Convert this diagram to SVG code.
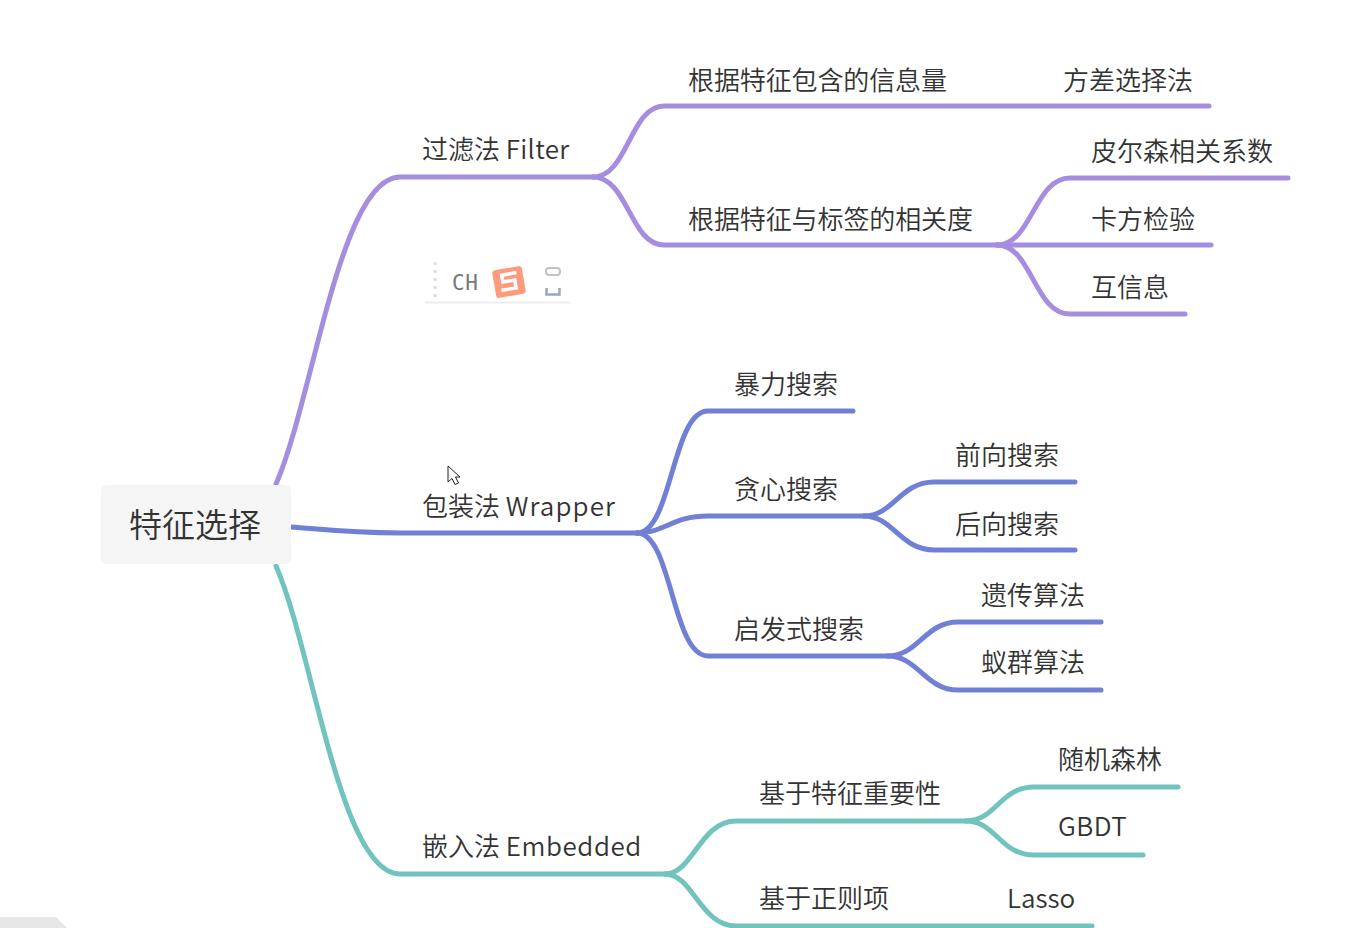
<svg xmlns="http://www.w3.org/2000/svg" width="1346" height="928" viewBox="0 0 1346 928">
<style>
text{font-family:"Noto Sans CJK SC","Noto Sans",sans-serif;font-size:26px;fill:#333;font-weight:350}
.l{fill:none;stroke-width:5;stroke-linecap:round;stroke-linejoin:round}
.p{stroke:#a58de0}.b{stroke:#7080d6}.g{stroke:#70c4bd}
</style>
<rect width="1346" height="928" fill="#fff"/>
<path d="M0 917H56L67 928H0Z" fill="#e6e6e6"/>
<g id="connectors">
<g class="l p">
<path d="M276 484C313 400 340 177 400 177H593"/>
<path d="M593 177C628 177 630 106 664 106H1209"/>
<path d="M593 177C628 177 630 245 664 245H997"/>
<path d="M997 245C1032 245 1034 178 1070 178H1288"/>
<path d="M997 245H1211"/>
<path d="M997 245C1032 245 1034 314 1070 314H1185"/>
</g>
<g class="l b">
<path d="M291 527C320 529 345 533 400 533H637"/>
<path d="M637 533C672 533 672 411 708 411H853"/>
<path d="M637 533C665 533 672 516 708 516H864"/>
<path d="M637 533C672 533 672 656 708 656H888"/>
<path d="M864 516C893 516 900 482 934 482H1075"/>
<path d="M864 516C893 516 900 550 934 550H1075"/>
<path d="M888 656C918 656 925 622 958 622H1101"/>
<path d="M888 656C918 656 925 690 958 690H1101"/>
</g>
<g class="l g">
<path d="M276 566C313 650 340 874 400 874H665"/>
<path d="M665 874C693 874 700 821 736 821H966"/>
<path d="M665 874C693 874 700 926 736 926H1092"/>
<path d="M966 821C996 821 1000 787 1034 787H1178"/>
<path d="M966 821C996 821 1000 855 1034 855H1143"/>
</g>
</g>
<g id="root"><rect x="101" y="485" width="190" height="79" rx="6" fill="#f5f5f5"/><text x="129" y="537" style="font-size:33px">特征选择</text></g>
<g id="n1"><text x="422" y="159">过滤法 <tspan letter-spacing="0.3">Filter</tspan></text></g>
<g id="n2"><text x="688" y="90" textLength="259">根据特征包含的信息量</text></g>
<g id="n3"><text x="1063" y="90">方差选择法</text></g>
<g id="n4"><text x="688" y="229" textLength="285">根据特征与标签的相关度</text></g>
<g id="n5"><text x="1091" y="161">皮尔森相关系数</text></g>
<g id="n6"><text x="1091" y="229">卡方检验</text></g>
<g id="n7"><text x="1091" y="297">互信息</text></g>
<g id="n8"><text x="422" y="516">包装法 <tspan letter-spacing="1.1">Wrapper</tspan></text></g>
<g id="n9"><text x="734" y="394">暴力搜索</text></g>
<g id="n10"><text x="734" y="499">贪心搜索</text></g>
<g id="n11"><text x="955" y="465">前向搜索</text></g>
<g id="n12"><text x="955" y="534">后向搜索</text></g>
<g id="n13"><text x="734" y="639">启发式搜索</text></g>
<g id="n14"><text x="981" y="605">遗传算法</text></g>
<g id="n15"><text x="981" y="672">蚁群算法</text></g>
<g id="n16"><text x="422" y="856">嵌入法 <tspan letter-spacing="0.55">Embedded</tspan></text></g>
<g id="n17"><text x="759" y="803">基于特征重要性</text></g>
<g id="n18"><text x="1058" y="769">随机森林</text></g>
<g id="n19"><text x="1058" y="836" letter-spacing="0.5">GBDT</text></g>
<g id="n20"><text x="759" y="908">基于正则项</text></g>
<g id="n21"><text x="1007" y="908">Lasso</text></g>
<g id="ime">
<path d="M425 302.500H570" stroke="#eee" stroke-width="2" fill="none"/>
<path d="M435 262V302" stroke="#ddd" stroke-width="3" stroke-dasharray="3 5" fill="none"/>
<text x="452" y="290" style="font-family:'DejaVu Sans Mono',monospace;font-size:21px;fill:#777;font-weight:400" textLength="26">CH</text>
<g transform="rotate(-10 509 282)">
<rect x="494" y="268" width="30" height="28" rx="3" fill="#ff9a7c"/>
<path d="M518 274H503V281H515V289H500" fill="none" stroke="#fff" stroke-width="3.500"/>
</g>
<rect x="546" y="268" width="14" height="7" rx="3" fill="#fff" stroke="#c4c0c8" stroke-width="2"/>
<path d="M546.500 288V294.500H559.500V288" fill="none" stroke="#9aa6c0" stroke-width="2.500"/>
</g>
<path id="cursor" d="M448 466V482L452 478.500L455 484.500L458.500 483L455.500 477H460Z" fill="#fff" stroke="#222" stroke-width="1"/>
</svg>
